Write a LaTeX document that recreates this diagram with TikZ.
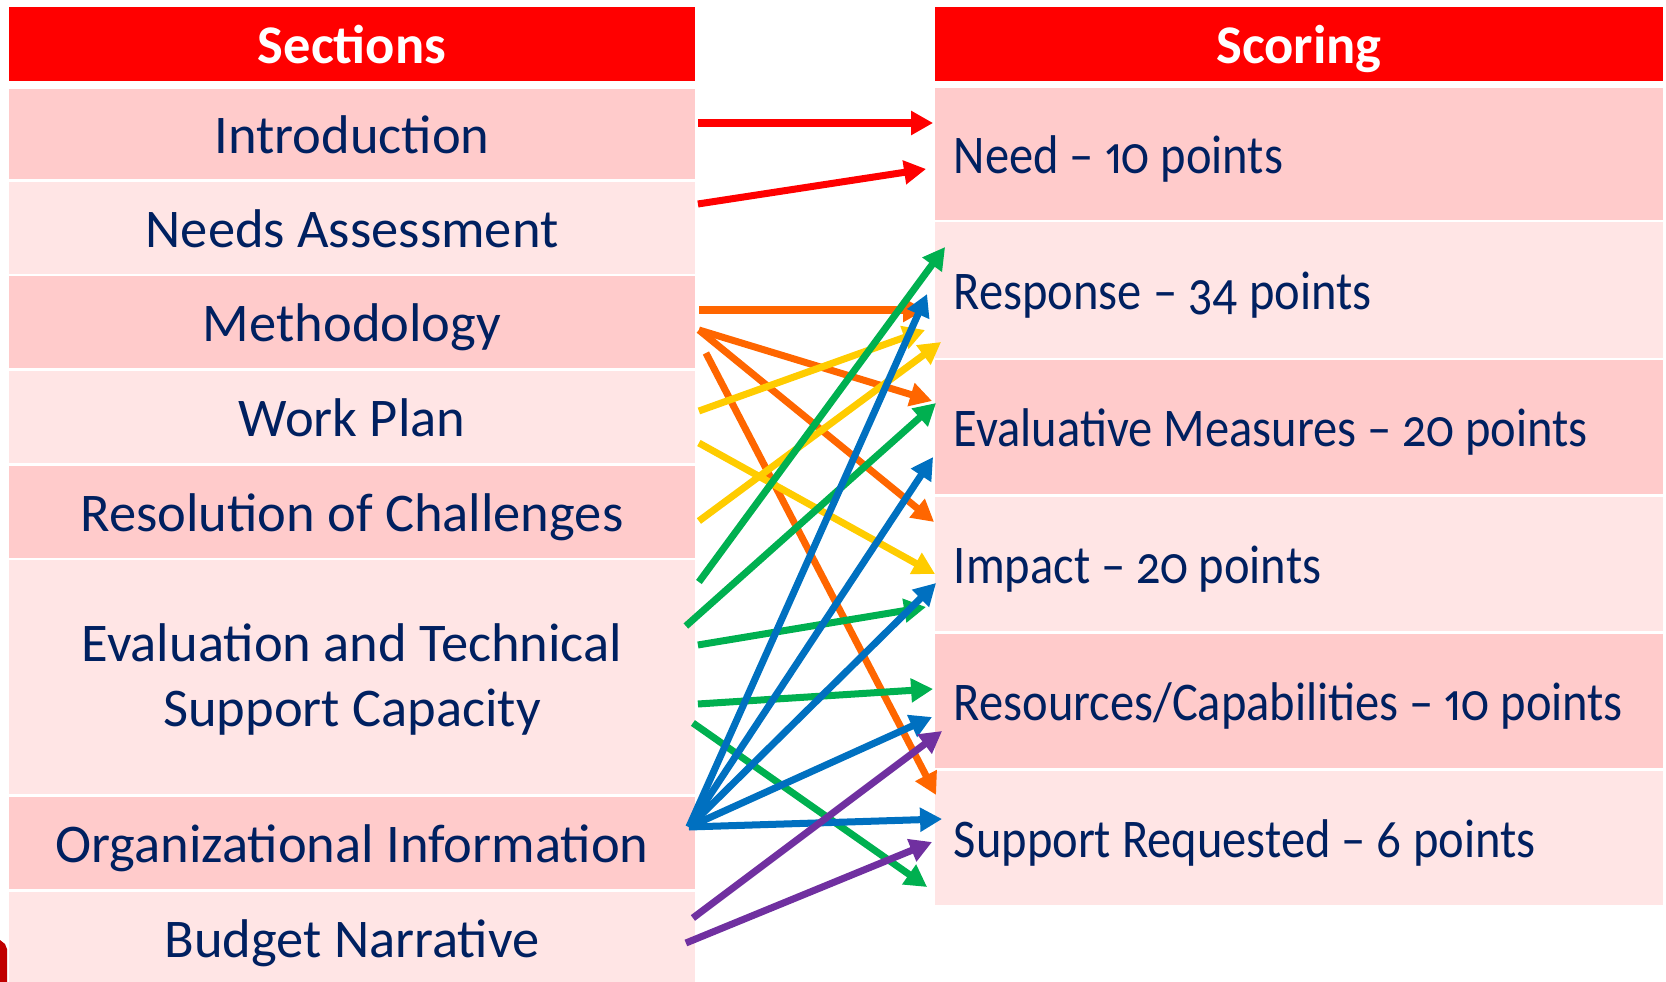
\documentclass[tikz,border=0pt]{standalone}
\usepackage{fontspec}
\setmainfont{Carlito}[Numbers={OldStyle,Proportional}]
\newfontfamily\scorefont{Carlito}[Ligatures=TeX,Numbers={OldStyle,Proportional},FakeStretch=0.89]
\usetikzlibrary{arrows.meta,positioning,calc}
\definecolor{navy}{HTML}{002060}
\definecolor{hdrred}{HTML}{FF0000}
\definecolor{rowdark}{HTML}{FFCBCB}
\definecolor{rowlight}{HTML}{FFE5E5}
\definecolor{cornerred}{HTML}{C00000}
\definecolor{lkred}{HTML}{FF0000}
\definecolor{lkorange}{HTML}{FF6600}
\definecolor{lkyellow}{HTML}{FFCC00}
\definecolor{lkgreen}{HTML}{00B050}
\definecolor{lkblue}{HTML}{0070C0}
\definecolor{lkpurple}{HTML}{7030A0}
\newcommand{\cellfont}{\fontsize{15.5}{18.5}\selectfont}

\begin{document}
\begin{tikzpicture}[x=0.01cm,y=-0.01cm,>={Triangle[length=0.22cm,width=0.23cm]},
 hdr/.style={fill=hdrred,text=white,font=\bfseries\cellfont,minimum height=0.74cm,inner sep=0pt,text height=0.38cm,text depth=0pt},
 lcell/.style={minimum width=6.86cm,inner sep=0pt,text=navy,font=\cellfont,align=center,text height=0.38cm,text depth=0pt},
 rcell/.style={text width=6.9cm,inner xsep=0.19cm,inner ysep=0pt,text=navy,font=\scorefont\cellfont,align=flush left,text height=0.38cm,text depth=0pt},
 dark/.style={fill=rowdark},
 light/.style={fill=rowlight},
 link/.style={->,line width=0.07cm}]
 \useasboundingbox (0,0) rectangle (1666,982);
 \fill[cornerred] (0,940) -- (5,944) -- (7,949) -- (7,982) -- (0,982) -- cycle;

 \node[hdr,minimum width=6.86cm] (secthdr) at (352,44) {Sections};
 \node[lcell,dark,minimum height=0.89cm] (intro) at (352,134) {Introduction};
 \node[lcell,light,minimum height=0.92cm] (needs) at (352,228) {Needs Assessment};
 \node[lcell,dark,minimum height=0.91cm] (meth) at (352,322) {Methodology};
 \node[lcell,light,minimum height=0.92cm] (work) at (352,417) {Work Plan};
 \node[lcell,dark,minimum height=0.91cm] (resol) at (352,512) {Resolution of Challenges};
 \node[lcell,light,minimum height=2.34cm,text height=0.99cm] (evalt) at (352,677) {Evaluation and Technical\\Support Capacity};
 \node[lcell,dark,minimum height=0.92cm] (org) at (352,843) {Organizational Information};
 \node[lcell,light,minimum height=0.92cm] (budget) at (352,938) {Budget Narrative};

 \node[hdr,minimum width=7.28cm] (scorehdr) at (1299,44) {Scoring};
 \node[rcell,dark,minimum height=1.31cm] (need) at (1299,154) {Need -- 10 points};
 \node[rcell,light,minimum height=1.35cm] (resp) at (1299,290) {Response -- 34 points};
 \node[rcell,dark,minimum height=1.33cm] (evalm) at (1299,427) {Evaluative Measures -- 20 points};
 \node[rcell,light,minimum height=1.33cm] (impact) at (1299,564) {Impact -- 20 points};
 \node[rcell,dark,minimum height=1.34cm] (res) at (1299,701) {Resources/Capabilities -- 10 points};
 \node[rcell,light,minimum height=1.34cm] (supp) at (1299,838) {Support Requested -- 6 points};

 \draw[link,lkred] ($(intro.east)+(2,-11)$) -- ($(need.west)+(-1,-31)$);
 \draw[link,lkred] ($(needs.east)+(2,-24)$) -- ($(need.west)+(-8,15)$);

 \draw[link,lkorange] ($(meth.east)+(3,-12)$) -- ($(resp.west)+(-9,20)$);
 \draw[link,lkorange] ($(meth.east)+(3,8)$) -- ($(evalm.west)+(-2,-26)$);
 \draw[link,lkorange] ($(meth.east)+(3,8)$) -- ($(impact.west)+(0,-42)$);
 \draw[link,lkorange] ($(meth.east)+(10,31)$) -- ($(supp.west)+(2,-43)$);

 \draw[link,lkyellow] ($(work.east)+(3,-6)$) -- ($(resp.west)+(-9,40)$);
 \draw[link,lkyellow] ($(resol.east)+(3,9)$) -- ($(resp.west)+(7,52)$);
 \draw[link,lkyellow] ($(work.east)+(3,26)$) -- ($(impact.west)+(1,10)$);

 \draw[link,lkgreen] ($(evalt.east)+(3,-95)$) -- ($(resp.west)+(11,-43)$);
 \draw[link,lkgreen] ($(evalt.east)+(-10,-51)$) -- ($(evalm.west)+(2,-24)$);
 \draw[link,lkgreen] ($(evalt.east)+(2,-32)$) -- ($(impact.west)+(-8,43)$);
 \draw[link,lkgreen] ($(evalt.east)+(2,27)$) -- ($(res.west)+(-1,-12)$);
 \draw[link,lkgreen] ($(evalt.east)+(-3,46)$) -- ($(supp.west)+(-7,49)$);

 \coordinate (orgout) at ($(org.east)+(-7,-16)$);
 \draw[link,lkblue] (orgout) -- ($(resp.west)+(-7,4)$);
 \draw[link,lkblue] (orgout) -- ($(evalm.west)+(-1,30)$);
 \draw[link,lkblue] (orgout) -- ($(impact.west)+(2,19)$);
 \draw[link,lkblue] (orgout) -- ($(res.west)+(-2,16)$);
 \draw[link,lkblue] (orgout) -- ($(supp.west)+(8,-19)$);

 \draw[link,lkpurple] ($(budget.east)+(-3,-20)$) -- ($(res.west)+(8,30)$);
 \draw[link,lkpurple] ($(budget.east)+(-10,5)$) -- ($(supp.west)+(-2,4)$);
\end{tikzpicture}
\end{document}
